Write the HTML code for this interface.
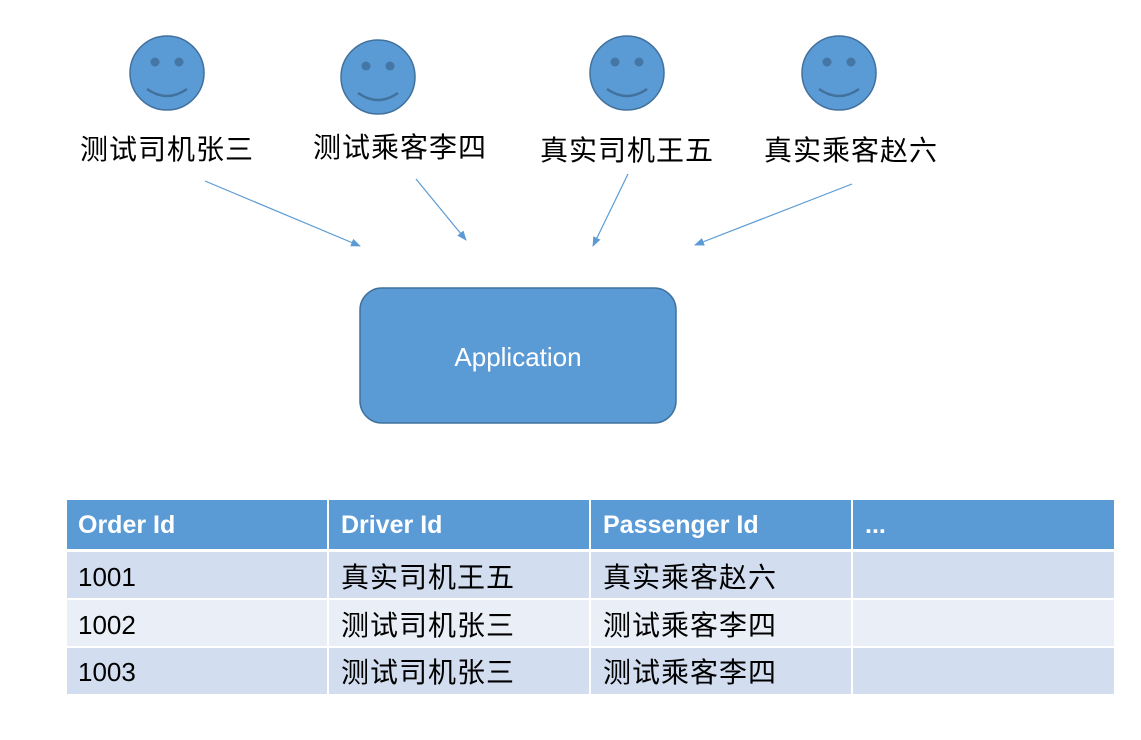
<!DOCTYPE html>
<html><head><meta charset="utf-8"><style>
html,body{margin:0;padding:0;background:#fff;}
svg{display:block;}
</style></head><body>
<svg width="1141" height="740" viewBox="0 0 1141 740" xmlns="http://www.w3.org/2000/svg" font-family="'Liberation Sans','Noto Sans CJK SC',sans-serif">
<defs>
<marker id="ah" markerWidth="10" markerHeight="8" refX="9" refY="4" orient="auto" markerUnits="userSpaceOnUse">
<path d="M0,0 L10,4 L0,8 z" fill="#5b9bd5"/>
</marker>
<g id="face">
<circle cx="0" cy="0" r="37" fill="#5b9bd5" stroke="#41719c" stroke-width="1.5"/>
<circle cx="-12" cy="-11" r="4.5" fill="#4476a6"/>
<circle cx="12" cy="-11" r="4.5" fill="#4476a6"/>
<path d="M-20,16 Q0,30 20,16" fill="none" stroke="#41719c" stroke-width="2.5"/>
</g>
</defs>
<use href="#face" x="167" y="73"/>
<use href="#face" x="378" y="77"/>
<use href="#face" x="627" y="73"/>
<use href="#face" x="839" y="73"/>
<g font-size="28" fill="#000" text-anchor="middle" letter-spacing="1">
<text x="167" y="159">测试司机张三</text>
<text x="400" y="157">测试乘客李四</text>
<text x="627" y="160">真实司机王五</text>
<text x="851" y="160">真实乘客赵六</text>
</g>
<g stroke="#5b9bd5" stroke-width="1.2" marker-end="url(#ah)">
<line x1="205" y1="181" x2="360" y2="246"/>
<line x1="416" y1="179" x2="466" y2="240"/>
<line x1="628" y1="174" x2="593" y2="246"/>
<line x1="852" y1="184" x2="695" y2="245"/>
</g>
<rect x="360" y="288" width="316" height="135" rx="22" fill="#5b9bd5" stroke="#41719c" stroke-width="1.5"/>
<text x="518" y="366" font-size="26" fill="#fff" text-anchor="middle">Application</text>
<g>
<rect x="67" y="500" width="1047" height="49" fill="#5b9bd5"/>
<rect x="67" y="552" width="1047" height="46" fill="#d2deef"/>
<rect x="67" y="600" width="1047" height="46" fill="#eaeff7"/>
<rect x="67" y="648" width="1047" height="46" fill="#d2deef"/>
<g stroke="#fff" stroke-width="2">
<line x1="328" y1="500" x2="328" y2="694"/>
<line x1="590" y1="500" x2="590" y2="694"/>
<line x1="852" y1="500" x2="852" y2="694"/>
<line x1="67" y1="550.5" x2="1114" y2="550.5" stroke-width="3"/>
<line x1="67" y1="599" x2="1114" y2="599"/>
<line x1="67" y1="647" x2="1114" y2="647"/>
</g>
<g font-size="25" font-weight="bold" fill="#fff">
<text x="78" y="533">Order Id</text>
<text x="341" y="533">Driver Id</text>
<text x="603" y="533">Passenger Id</text>
<text x="865" y="533">...</text>
</g>
<g font-size="26" fill="#000">
<text x="78" y="586">1001</text>
<text x="78" y="634">1002</text>
<text x="78" y="681">1003</text>
</g>
<g font-size="28" fill="#000" letter-spacing="1">
<text x="341" y="587">真实司机王五</text>
<text x="603" y="587">真实乘客赵六</text>
<text x="341" y="635">测试司机张三</text>
<text x="603" y="635">测试乘客李四</text>
<text x="341" y="682">测试司机张三</text>
<text x="603" y="682">测试乘客李四</text>
</g>
</g>
</svg>
</body></html>
